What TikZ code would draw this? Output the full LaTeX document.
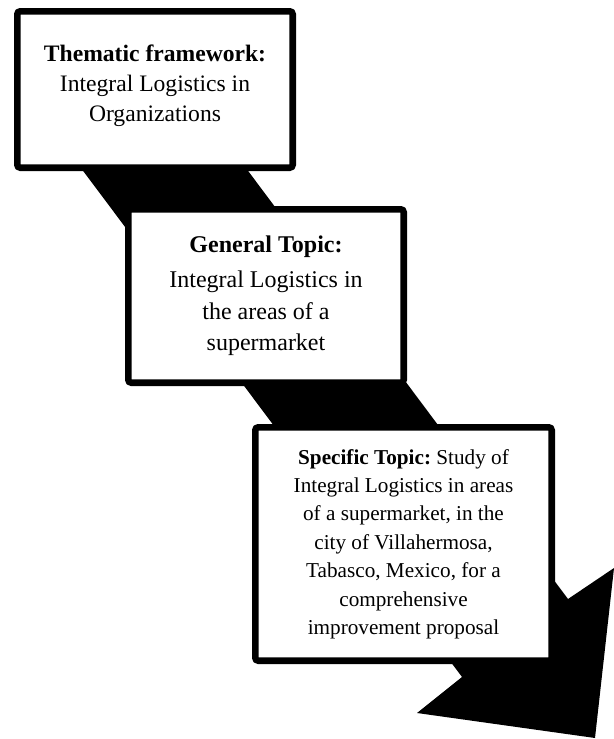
\documentclass[tikz,border=0pt]{standalone}
\usepackage{fontspec}
\setmainfont{Liberation Serif}
\frenchspacing
\begin{document}
\begin{tikzpicture}[x=0.5pt, y=-0.5pt,
        every node/.style={rectangle, draw, line width=3.3pt, fill=white, rounded corners=1.5pt, inner sep=0pt, align=center}]
    \useasboundingbox (0,0) rectangle (614,739);
    % the big arrow running behind the three boxes
    \fill (45,120) -- (151,41) -- (568,599) -- (614,568) -- (595,738) -- (417,713) -- (462,677) -- cycle;
    \node[minimum width=137.7pt, minimum height=78.2pt, font=\fontsize{11.8}{15}\selectfont] (frame) at (155,89.5)
        {\textbf{Thematic framework:}\\ Integral Logistics in\\ Organizations\rule[-6.6pt]{0pt}{0pt}};
    \node[minimum width=137.7pt, minimum height=86.7pt, font=\fontsize{12}{15.9}\selectfont] (general) at (266,296)
        {\textbf{General Topic:}\\[1.5pt] Integral Logistics in\\ the areas of a\\ supermarket};
    \node[minimum width=148.2pt, minimum height=116.7pt, font=\fontsize{10.6}{14.2}\selectfont] (specific) at (403.5,544)
        {\textbf{Specific Topic:} Study of\\ Integral Logistics in areas\\ of a supermarket, in the\\ city of Villahermosa,\\ Tabasco, Mexico, for a\\ comprehensive\\ improvement proposal};
\end{tikzpicture}
\end{document}
